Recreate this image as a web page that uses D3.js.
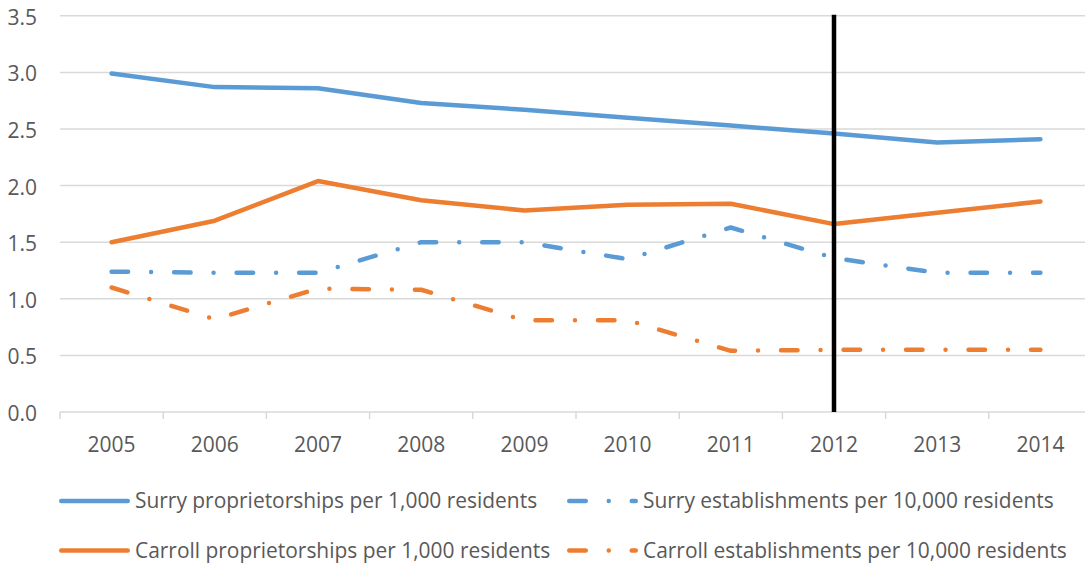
<!DOCTYPE html>
<html>
<head>
<meta charset="utf-8">
<script src="https://cdn.jsdelivr.net/npm/d3@7"></script>
<style>
  body { margin: 0; background: #fff; }
  svg { display: block; }
  text { font-family: "Open Sans", sans-serif; fill: #595959; }
</style>
</head>
<body>
<svg id="chart" width="1085" height="567"></svg>
<script>
// Years on the category axis
const years = ["2005", "2006", "2007", "2008", "2009", "2010", "2011", "2012", "2013", "2014"];
// Value axis ticks
const yTicks = [0, 0.5, 1.0, 1.5, 2.0, 2.5, 3.0, 3.5];

// Series values
const surryProprietorships   = [2.99, 2.87, 2.86, 2.73, 2.67, 2.60, 2.53, 2.46, 2.38, 2.41];
const surryEstablishments    = [1.24, 1.23, 1.23, 1.50, 1.50, 1.35, 1.63, 1.36, 1.23, 1.23];
const carrollProprietorships = [1.50, 1.69, 2.04, 1.87, 1.78, 1.83, 1.84, 1.66, 1.76, 1.86];
const carrollEstablishments  = [1.10, 0.82, 1.09, 1.08, 0.81, 0.81, 0.54, 0.55, 0.55, 0.55];

// Series labels
const seriesNames = [
  "Surry proprietorships per 1,000 residents",
  "Surry establishments per 10,000 residents",
  "Carroll proprietorships per 1,000 residents",
  "Carroll establishments per 10,000 residents"
];

// Year highlighted by the vertical rule
const markerYear = "2012";

const BLUE = "#5B9BD5", ORANGE = "#ED7D31";
const DASH_DOT = "16.5,23,0,23";
const LW = 4.5;

const series = [
  { name: seriesNames[0], values: surryProprietorships,   color: BLUE,   dash: null },
  { name: seriesNames[1], values: surryEstablishments,    color: BLUE,   dash: DASH_DOT },
  { name: seriesNames[2], values: carrollProprietorships, color: ORANGE, dash: null },
  { name: seriesNames[3], values: carrollEstablishments,  color: ORANGE, dash: DASH_DOT }
];

const svg = d3.select("#chart");

const x = d3.scaleBand().domain(years).range([60, 1092]).paddingInner(0).paddingOuter(0);
const cx = d => x(d) + x.bandwidth() / 2;
const y = d3.scaleLinear().domain([0, 3.5]).range([412, 15.8]);

// Horizontal gridlines
svg.append("g").selectAll("line").data(yTicks).join("line")
  .attr("x1", 60).attr("x2", 1085)
  .attr("y1", d => y(d)).attr("y2", d => y(d))
  .attr("stroke", "#d9d9d9").attr("stroke-width", 1.5);

// Category tick marks at band boundaries
const boundaries = years.map(d => x(d)).concat([x.range()[1]]);
svg.append("g").selectAll("line").data(boundaries).join("line")
  .attr("x1", d => d).attr("x2", d => d)
  .attr("y1", y(0)).attr("y2", y(0) + 7)
  .attr("stroke", "#d9d9d9").attr("stroke-width", 1.5);

// Value axis labels
svg.append("g").selectAll("text").data(yTicks).join("text")
  .attr("x", 37).attr("y", d => y(d) + 9)
  .attr("text-anchor", "end")
  .style("font-size", "21px")
  .text(d => d3.format(".1f")(d));

// Category labels
svg.append("g").selectAll("text").data(years).join("text")
  .attr("x", d => cx(d)).attr("y", 452)
  .attr("text-anchor", "middle")
  .style("font-size", "21px")
  .text(d => d);

// Series lines
const line = d3.line().x((d, i) => cx(years[i])).y(d => y(d));
svg.append("g").selectAll("path").data(series).join("path")
  .attr("d", d => line(d.values))
  .attr("fill", "none")
  .attr("stroke", d => d.color)
  .attr("stroke-width", LW)
  .attr("stroke-linecap", "round")
  .attr("stroke-linejoin", "round")
  .attr("stroke-dasharray", d => d.dash);

// Vertical rule
svg.append("line")
  .attr("x1", cx(markerYear)).attr("x2", cx(markerYear))
  .attr("y1", y(3.5) - 1).attr("y2", y(0))
  .attr("stroke", "#000").attr("stroke-width", 4.5);

// Legend
const legendPos = [
  { x: 59,  y: 501 },
  { x: 567, y: 501 },
  { x: 59,  y: 550.5 },
  { x: 567, y: 550.5 }
];
const legend = svg.append("g").selectAll("g").data(series).join("g")
  .attr("transform", (d, i) => `translate(${legendPos[i].x},${legendPos[i].y})`);
legend.append("line")
  .attr("x1", LW / 2).attr("x2", 71 - LW / 2)
  .attr("y1", 0).attr("y2", 0)
  .attr("stroke", d => d.color)
  .attr("stroke-width", LW)
  .attr("stroke-linecap", "round")
  .attr("stroke-dasharray", d => d.dash);
const legendText = legend.append("text")
  .attr("x", 76).attr("y", 7)
  .style("font-size", "20px")
  .text(d => d.name);

// Size legend text so the longest entry spans its slot
const longest = legendText.filter((d, i) => i === 3).node();
const w = longest.getComputedTextLength();
const fs = 20 * 424 / w;
legendText.style("font-size", fs + "px");
</script>
</body>
</html>
